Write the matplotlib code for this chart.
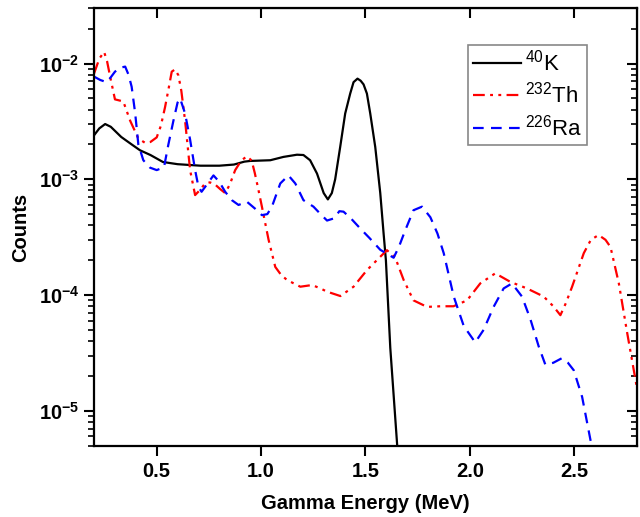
import numpy as np
import matplotlib
matplotlib.use('Agg')
import matplotlib.pyplot as plt
from matplotlib.ticker import FixedLocator, FuncFormatter, NullFormatter, NullLocator

plt.rcParams['font.family'] = ['Liberation Sans', 'DejaVu Sans']
plt.rcParams['mathtext.fontset'] = 'custom'
plt.rcParams['mathtext.rm'] = 'Liberation Sans'
plt.rcParams['mathtext.bf'] = 'Liberation Sans:bold'
plt.rcParams['mathtext.default'] = 'regular'

# 40K spectrum
e_k = [0.20, 0.225, 0.253, 0.28, 0.33, 0.38, 0.42, 0.47, 0.53, 0.60, 0.71, 0.80,
       0.87, 0.92, 0.948, 1.044, 1.107, 1.172, 1.203, 1.235, 1.268, 1.30, 1.32,
       1.339, 1.355, 1.379, 1.403, 1.427, 1.443, 1.462, 1.477, 1.491, 1.507, 1.523,
       1.547, 1.571, 1.587, 1.598, 1.619, 1.654]
c_k = [2.4e-3, 2.75e-3, 3.0e-3, 2.84e-3, 2.32e-3, 2.0e-3, 1.78e-3, 1.62e-3, 1.41e-3,
       1.35e-3, 1.31e-3, 1.31e-3, 1.34e-3, 1.42e-3, 1.44e-3, 1.46e-3, 1.56e-3,
       1.63e-3, 1.62e-3, 1.46e-3, 1.12e-3, 7.6e-4, 6.7e-4, 7.6e-4, 1.0e-3, 1.9e-3,
       3.7e-3, 5.5e-3, 6.9e-3, 7.4e-3, 7.1e-3, 6.6e-3, 5.5e-3, 3.7e-3, 1.9e-3, 7.6e-4,
       3.4e-4, 2.0e-4, 3.5e-5, 4.5e-6]

# 232Th spectrum
e_th = [0.20, 0.225, 0.248, 0.262, 0.277, 0.30, 0.32, 0.34, 0.373, 0.412, 0.445,
        0.47, 0.50, 0.52, 0.54, 0.558, 0.572, 0.588, 0.604, 0.618, 0.636, 0.66, 0.684,
        0.705, 0.732, 0.755, 0.78, 0.805, 0.828, 0.85, 0.876, 0.905, 0.932, 0.955,
        0.97, 0.985, 1.004, 1.036, 1.068, 1.095, 1.124, 1.188, 1.244, 1.28, 1.316,
        1.38, 1.443, 1.507, 1.571, 1.603, 1.643, 1.683, 1.73, 1.795, 1.86, 1.922,
        1.987, 2.05, 2.122, 2.194, 2.274, 2.354, 2.40, 2.434, 2.46, 2.49, 2.546,
        2.58, 2.617, 2.65, 2.674, 2.714, 2.754, 2.80]
c_th = [8.2e-3, 1.1e-2, 1.26e-2, 1.05e-2, 7.7e-3, 4.9e-3, 4.8e-3, 4.7e-3, 3.2e-3,
        2.25e-3, 2.06e-3, 2.1e-3, 2.3e-3, 2.9e-3, 4.2e-3, 6.2e-3, 8.5e-3, 8.9e-3,
        7.9e-3, 5.8e-3, 3.2e-3, 1.2e-3, 7.3e-4, 8.0e-4, 9.2e-4, 9.4e-4, 9.0e-4,
        8.2e-4, 7.6e-4, 9.0e-4, 1.2e-3, 1.45e-3, 1.58e-3, 1.45e-3, 1.13e-3, 8.5e-4,
        5.8e-4, 3.0e-4, 1.75e-4, 1.5e-4, 1.35e-4, 1.18e-4, 1.22e-4, 1.15e-4, 1.07e-4,
        9.8e-5, 1.18e-4, 1.64e-4, 2.14e-4, 2.44e-4, 2.1e-4, 1.35e-4, 9.0e-5, 7.9e-5,
        8.0e-5, 8.0e-5, 9.0e-5, 1.26e-4, 1.54e-4, 1.3e-4, 1.14e-4, 9.7e-5, 8.0e-5,
        6.7e-5, 8.5e-5, 1.18e-4, 2.3e-4, 3.0e-4, 3.3e-4, 3.0e-4, 2.6e-4, 1.26e-4,
        4.7e-5, 1.6e-5]

# 226Ra spectrum
e_ra = [0.20, 0.23, 0.26, 0.28, 0.30, 0.325, 0.349, 0.365, 0.38, 0.397, 0.412,
        0.436, 0.468, 0.50, 0.535, 0.556, 0.58, 0.60, 0.612, 0.636, 0.66, 0.684,
        0.70, 0.715, 0.74, 0.772, 0.80, 0.828, 0.86, 0.892, 0.932, 0.97, 1.004,
        1.03, 1.052, 1.092, 1.131, 1.164, 1.203, 1.251, 1.285, 1.316, 1.35, 1.375,
        1.395, 1.43, 1.475, 1.52, 1.571, 1.635, 1.66, 1.69, 1.73, 1.771, 1.811,
        1.845, 1.875, 1.923, 1.971, 2.026, 2.066, 2.114, 2.162, 2.202, 2.25, 2.29,
        2.33, 2.362, 2.40, 2.44, 2.47, 2.498, 2.538, 2.578, 2.59]
c_ra = [7.7e-3, 7.2e-3, 6.9e-3, 7.6e-3, 8.5e-3, 9.2e-3, 9.4e-3, 8.0e-3, 6.3e-3,
        3.7e-3, 2.0e-3, 1.46e-3, 1.26e-3, 1.2e-3, 1.27e-3, 2.0e-3, 3.2e-3, 4.6e-3,
        5.0e-3, 3.7e-3, 2.2e-3, 1.2e-3, 8.6e-4, 7.8e-4, 9.0e-4, 1.08e-3, 9.5e-4,
        7.8e-4, 6.6e-4, 6.0e-4, 6.4e-4, 5.6e-4, 4.9e-4, 5.0e-4, 5.8e-4, 9.2e-4,
        1.08e-3, 9.2e-4, 6.6e-4, 5.8e-4, 5.0e-4, 4.4e-4, 4.6e-4, 5.3e-4, 5.25e-4,
        4.6e-4, 3.76e-4, 3.1e-4, 2.46e-4, 2.1e-4, 2.6e-4, 3.6e-4, 5.4e-4, 5.8e-4,
        4.7e-4, 3.4e-4, 2.3e-4, 9.7e-5, 5.4e-5, 3.9e-5, 5.0e-5, 7.9e-5, 1.14e-4,
        1.26e-4, 9.7e-5, 6.2e-5, 3.6e-5, 2.5e-5, 2.6e-5, 2.84e-5, 2.6e-5, 2.24e-5,
        1.32e-5, 5.6e-6, 4.5e-6]

x_ticks = [0.5, 1.0, 1.5, 2.0, 2.5]
y_ticks = [1e-5, 1e-4, 1e-3, 1e-2]

fig = plt.figure(figsize=(6.4, 5.17), dpi=100)
ax = fig.add_axes([0.147, 0.138, 0.848, 0.846])

ax.plot(e_k, c_k, color='black', lw=1.6, label=r'$^{40}$K')
ax.plot(e_th, c_th, color='red', lw=1.6, ls=(0, (5.3, 2.4, 1.3, 2.4, 1.3, 2.4)),
        label=r'$^{232}$Th')
ax.plot(e_ra, c_ra, color='blue', lw=1.6, ls=(0, (4.8, 3.3)), label=r'$^{226}$Ra')

ax.set_yscale('log')
ax.set_xlim(0.2, 2.8)
ax.set_ylim(5e-6, 3e-2)

ax.xaxis.set_major_locator(FixedLocator(x_ticks))
ax.xaxis.set_minor_locator(NullLocator())
ax.xaxis.set_major_formatter(FuncFormatter(lambda v, p: f'{v:.1f}'))
ax.yaxis.set_major_locator(FixedLocator(y_ticks))
ax.yaxis.set_major_formatter(
    FuncFormatter(lambda v, p: r'$\mathbf{10^{%d}}$' % int(round(np.log10(v)))))
ax.yaxis.set_minor_formatter(NullFormatter())

for lab in ax.get_xticklabels() + ax.get_yticklabels():
    lab.set_fontweight('bold')
ax.tick_params(axis='both', which='major', labelsize=14.5, direction='out',
               length=7, width=1.5)
ax.tick_params(axis='x', pad=5)
ax.tick_params(axis='y', which='minor', direction='out', length=4, width=1.2)
for s in ax.spines.values():
    s.set_linewidth(1.6)

# mirrored ticks pointing inward, no labels
top = ax.secondary_xaxis('top')
top.xaxis.set_major_locator(FixedLocator(x_ticks))
top.xaxis.set_minor_locator(NullLocator())
top.tick_params(direction='in', length=7, width=1.5, labeltop=False)
right = ax.secondary_yaxis('right')
right.yaxis.set_major_locator(FixedLocator(y_ticks))
right.tick_params(which='major', direction='in', length=7, width=1.5, labelright=False)
right.tick_params(which='minor', direction='in', length=4, width=1.2)
right.yaxis.set_minor_formatter(NullFormatter())

ax.set_xlabel('Gamma Energy (MeV)', fontsize=14.5, fontweight='bold', labelpad=9)
ax.set_ylabel('Counts', fontsize=14.5, fontweight='bold')
ax.yaxis.set_label_coords(-0.118, 0.5)

leg = ax.legend(loc='upper right', bbox_to_anchor=(0.908, 0.916), fontsize=16,
                fancybox=False, framealpha=1, edgecolor='#888888',
                handlelength=2.15, handletextpad=0.2, borderpad=0.2,
                labelspacing=0.3, borderaxespad=0)
leg.get_frame().set_linewidth(1.2)

fig.savefig('out.png', dpi=100)
